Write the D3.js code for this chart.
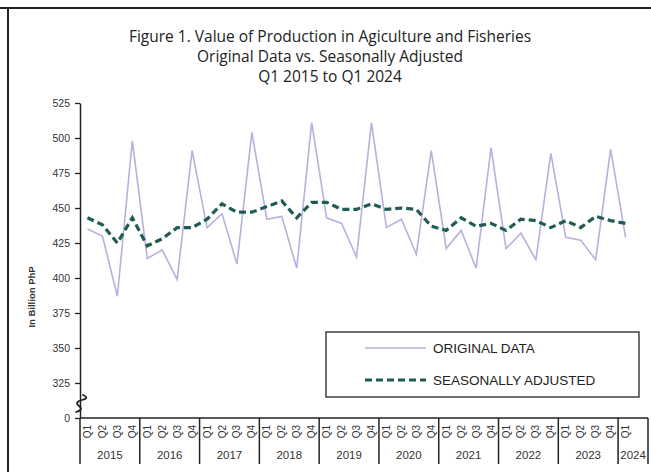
<!DOCTYPE html>
<html>
<head>
<meta charset="utf-8">
<script src="https://cdn.jsdelivr.net/npm/d3@7"></script>
<style>
  body { margin: 0; background: #fff; }
  svg { display: block; }
  .tick text { font-family: "Liberation Sans", Arial, sans-serif; font-size: 10.5px; fill: #333; }
</style>
</head>
<body>
<script>
/*
 * Value of Production in Agriculture and Fisheries,
 * original data vs. seasonally adjusted, Q1 2015 to Q1 2024.
 */

const WIDTH = 651;
const HEIGHT = 472;

// plot area
const LEFT = 80;
const RIGHT = 648;
const TOP = 103;
const BOTTOM = 418;

/*
 * Data (billion PhP).
 */

const YEARS = ['2015', '2016', '2017', '2018', '2019', '2020', '2021', '2022', '2023', '2024'];
const QUARTERS = ['Q1', 'Q2', 'Q3', 'Q4'];

const ORIGINAL = [
  435, 430, 387, 498,
  414, 420, 399, 491,
  436, 446, 410, 504,
  442, 444, 407, 511,
  443, 439, 415, 511,
  436, 442, 417, 491,
  421, 434, 407, 493,
  421, 432, 413, 489,
  429, 427, 413, 492,
  429
];

const ADJUSTED = [
  443, 438, 425, 443,
  423, 428, 436, 436,
  442, 453, 447, 447,
  451, 455, 443, 454,
  454, 449, 449, 453,
  449, 450, 449, 437,
  434, 443, 437, 439,
  434, 442, 441, 436,
  441, 436, 444, 441,
  439
];

// the axis is broken: the bottom tick stands for zero
const Y_TICKS = [300, 325, 350, 375, 400, 425, 450, 475, 500, 525];
const Y_LABELS = ['0', '325', '350', '375', '400', '425', '450', '475', '500', '525'];

const TITLE = [
  'Figure 1. Value of Production in Agiculture and Fisheries',
  'Original Data vs. Seasonally Adjusted',
  'Q1 2015 to Q1 2024'
];

// quarter labels for every period
const PERIODS = ORIGINAL.map((d, i) => ({
  quarter: QUARTERS[i % 4],
  year: YEARS[Math.floor(i / 4)]
}));

// one empty slot after the last quarter
const SLOTS = ORIGINAL.length + 1;

const svg = d3.select('body')
  .append('svg')
    .attr('width', WIDTH)
    .attr('height', HEIGHT);

const x = d3.scaleLinear()
    .domain([0, SLOTS])
    .range([LEFT, RIGHT]);

const y = d3.scaleLinear()
    .domain([300, 525])
    .range([BOTTOM, TOP]);

/*
 * Frame and title.
 */

svg.append('line')
    .attr('x1', 0).attr('x2', WIDTH)
    .attr('y1', 8).attr('y2', 8)
    .attr('stroke', '#222')
    .attr('stroke-width', 2);

svg.append('line')
    .attr('x1', 8).attr('x2', 8)
    .attr('y1', 8).attr('y2', HEIGHT)
    .attr('stroke', '#222')
    .attr('stroke-width', 2);

svg.append('g')
  .selectAll('text')
  .data(TITLE)
  .enter()
  .append('text')
    .attr('x', 330)
    .attr('y', (d, i) => 42 + i * 20)
    .attr('text-anchor', 'middle')
    .attr('font-family', '"Open Sans", sans-serif')
    .attr('font-size', 15.5)
    .attr('fill', '#222')
    .text(d => d);

/*
 * Y axis.
 */

const yAxis = svg.append('g')
    .attr('transform', `translate(${LEFT},0)`)
    .call(d3.axisLeft(y)
      .tickValues(Y_TICKS)
      .tickFormat((d, i) => Y_LABELS[i])
      .tickSize(5)
      .tickSizeOuter(0)
      .tickPadding(5));

yAxis.select('.domain')
    .attr('stroke', '#222')
    .attr('stroke-width', 1.5);
yAxis.selectAll('.tick line')
    .attr('stroke', '#222')
    .attr('stroke-width', 1.3);

// axis break squiggle
svg.append('path')
    .attr('d', `M${LEFT - 4},${BOTTOM - 6} q 8,-2 3,-6 t 3,-6 t 1,-5`)
    .attr('fill', 'none')
    .attr('stroke', '#222')
    .attr('stroke-width', 1.8)
    .attr('stroke-linecap', 'round');

svg.append('text')
    .attr('transform', 'translate(35,297) rotate(-90)')
    .attr('text-anchor', 'middle')
    .attr('font-family', '"Liberation Sans", Arial, sans-serif')
    .attr('font-size', 9.5)
    .attr('font-weight', 'bold')
    .attr('fill', '#333')
    .text('In Billion PhP');

/*
 * X axis: quarters over years.
 */

svg.append('line')
    .attr('x1', LEFT).attr('x2', RIGHT)
    .attr('y1', BOTTOM).attr('y2', BOTTOM)
    .attr('stroke', '#222')
    .attr('stroke-width', 1.5);

// year separators
const yearEdges = YEARS.map((d, i) => i * 4).concat([SLOTS]);
svg.append('g')
  .selectAll('line')
  .data(yearEdges)
  .enter()
  .append('line')
    .attr('x1', d => x(d)).attr('x2', d => x(d))
    .attr('y1', BOTTOM).attr('y2', 464)
    .attr('stroke', '#222')
    .attr('stroke-width', 1.5);

svg.append('g')
  .selectAll('text')
  .data(PERIODS)
  .enter()
  .append('text')
    .attr('transform', (d, i) => `translate(${x(i + 0.5) + 3.5},${BOTTOM + 7}) rotate(-90)`)
    .attr('text-anchor', 'end')
    .attr('font-family', '"Liberation Sans", Arial, sans-serif')
    .attr('font-size', 10)
    .attr('fill', '#333')
    .text(d => d.quarter);

svg.append('g')
  .selectAll('text')
  .data(YEARS)
  .enter()
  .append('text')
    .attr('x', (d, i) => (x(i * 4) + x(Math.min(i * 4 + 4, SLOTS))) / 2)
    .attr('y', 459)
    .attr('text-anchor', 'middle')
    .attr('font-family', '"Liberation Sans", Arial, sans-serif')
    .attr('font-size', 11.5)
    .attr('fill', '#333')
    .text(d => d);

/*
 * Series.
 */

const line = d3.line()
    .x((d, i) => x(i + 0.5))
    .y(d => y(d));

svg.append('path')
    .datum(ORIGINAL)
    .attr('d', line)
    .attr('fill', 'none')
    .attr('stroke', '#b7b1dc')
    .attr('stroke-width', 1.6);

svg.append('path')
    .datum(ADJUSTED)
    .attr('d', line)
    .attr('fill', 'none')
    .attr('stroke', '#1f5d54')
    .attr('stroke-width', 3.2)
    .attr('stroke-dasharray', '7,4');

/*
 * Legend.
 */

const legend = svg.append('g')
    .attr('transform', 'translate(326,332)');

legend.append('rect')
    .attr('width', 313)
    .attr('height', 65)
    .attr('fill', '#fff')
    .attr('stroke', '#222')
    .attr('stroke-width', 1.3);

const legendItems = [
  {label: 'ORIGINAL DATA', stroke: '#b7b1dc', width: 1.6, dash: null},
  {label: 'SEASONALLY ADJUSTED', stroke: '#1f5d54', width: 3.2, dash: '7,4'}
];

const item = legend.selectAll('.legend-item')
  .data(legendItems)
  .enter()
  .append('g')
    .attr('class', 'legend-item')
    .attr('transform', (d, i) => `translate(0,${16 + i * 32})`);

item.append('line')
    .attr('x1', 39).attr('x2', 100)
    .attr('stroke', d => d.stroke)
    .attr('stroke-width', d => d.width)
    .attr('stroke-dasharray', d => d.dash);

item.append('text')
    .attr('x', 107)
    .attr('y', 5)
    .attr('font-family', '"Liberation Sans", Arial, sans-serif')
    .attr('font-size', 13.5)
    .attr('fill', '#222')
    .text(d => d.label);
</script>
</body>
</html>
